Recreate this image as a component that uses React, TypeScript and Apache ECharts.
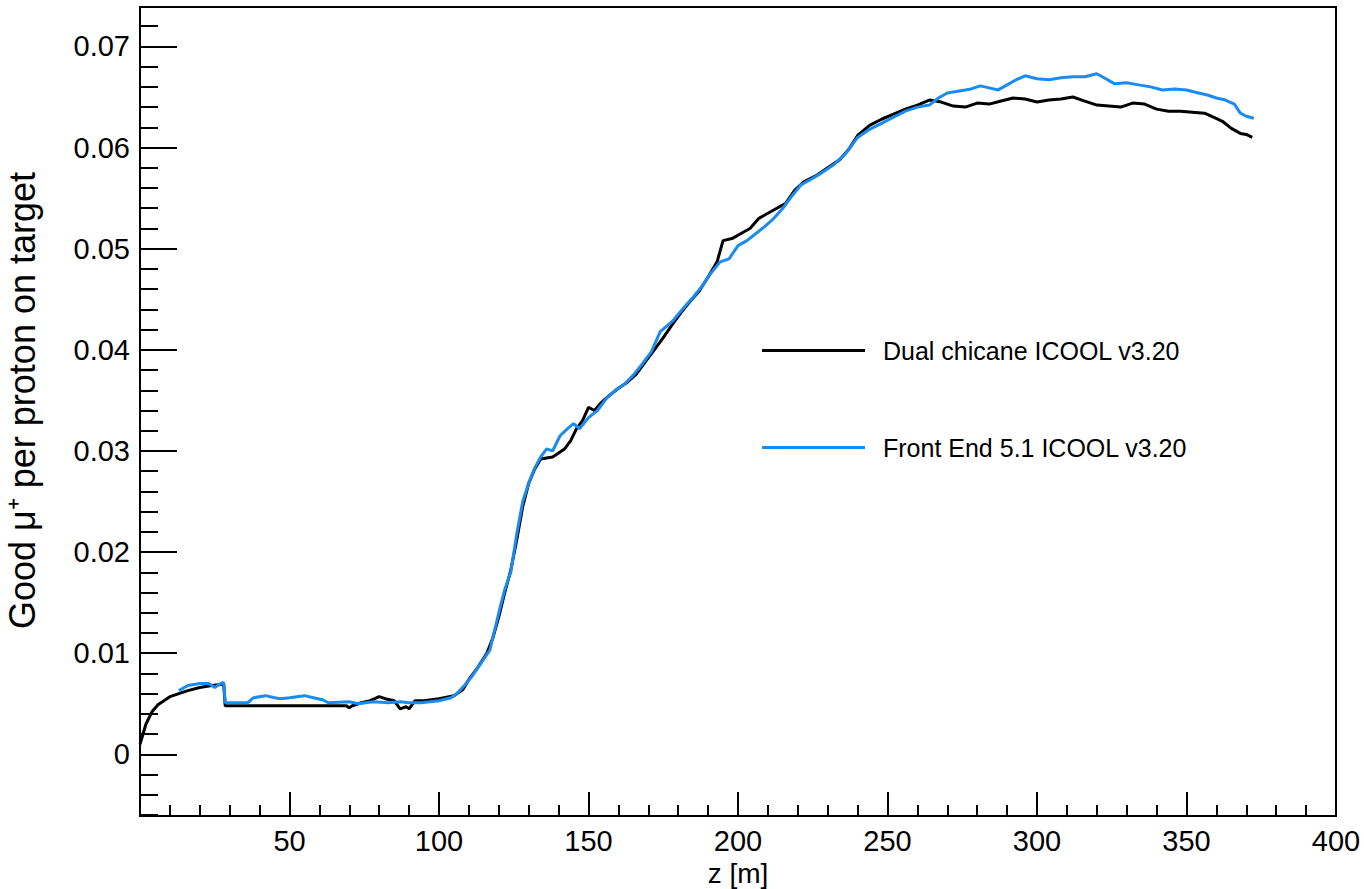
import React, { useEffect, useRef } from "react";
import * as echarts from "echarts";

const dualZ = [0, 2, 4, 6, 8, 10, 13, 16, 20, 24, 27, 28, 28.5, 40, 55, 69, 70, 71, 74, 77, 80, 82, 85, 87, 89, 90, 92, 95, 100, 105, 108, 110, 113, 116, 118, 120, 122, 124, 126, 128, 130, 132, 134, 136, 138, 140, 142, 144, 146, 148, 150, 152, 154, 157, 160, 163, 166, 169, 172, 175, 178, 181, 184, 187, 190, 193, 195, 198, 201, 204, 207, 210, 213, 216, 219, 222, 226, 230, 234, 237, 240, 244, 248, 252, 256, 260, 264, 268, 272, 276, 280, 284, 288, 292, 296, 300, 304, 308, 312, 316, 320, 324, 328, 332, 336, 340, 344, 348, 352, 356, 359, 362, 365, 368, 370, 372];
const dualY = [0.001, 0.003, 0.0042, 0.0049, 0.0053, 0.0057, 0.006, 0.0063, 0.0066, 0.0068, 0.0069, 0.0069, 0.0048, 0.0048, 0.0048, 0.0048, 0.0046, 0.0048, 0.0051, 0.0053, 0.0057, 0.0055, 0.0053, 0.0045, 0.0047, 0.0045, 0.0053, 0.0053, 0.0055, 0.0058, 0.0064, 0.0074, 0.0086, 0.01, 0.0115, 0.0136, 0.016, 0.0182, 0.0212, 0.0245, 0.0268, 0.0282, 0.0292, 0.0293, 0.0294, 0.0298, 0.0302, 0.031, 0.0322, 0.033, 0.0343, 0.034, 0.0347, 0.0355, 0.0362, 0.0368, 0.0376, 0.0388, 0.04, 0.0412, 0.0425, 0.0437, 0.0448, 0.0458, 0.0472, 0.0487, 0.0508, 0.051, 0.0515, 0.052, 0.053, 0.0535, 0.054, 0.0545, 0.0558, 0.0566, 0.0572, 0.058, 0.0588, 0.0598, 0.0612, 0.0622, 0.0628, 0.0633, 0.0638, 0.0642, 0.0647, 0.0645, 0.0641, 0.064, 0.0644, 0.0643, 0.0646, 0.0649, 0.0648, 0.0645, 0.0647, 0.0648, 0.065, 0.0646, 0.0642, 0.0641, 0.064, 0.0644, 0.0643, 0.0638, 0.0636, 0.0636, 0.0635, 0.0634, 0.063, 0.0626, 0.0619, 0.0614, 0.0613, 0.061];

const feZ = [13, 16, 20, 23, 25, 27, 28, 28.5, 36, 38, 42, 45, 47, 50, 55, 58, 61, 63, 70, 73, 78, 83, 87, 90, 94, 97, 100, 104, 106, 108.5, 111, 114, 117, 120, 122, 124, 126, 128, 130, 132, 134, 136, 138, 140.5, 143, 145, 147, 150, 153, 156, 159, 162, 165, 168, 171, 174, 178, 182, 185, 188, 191, 194, 197, 200, 203, 206, 209, 212, 215, 218, 221, 224, 228, 232, 236, 240, 244, 248, 252, 256, 260, 264, 267, 270, 274, 278, 281, 284, 287, 290, 293, 296, 300, 304, 308, 312, 316, 320, 323, 326, 330, 334, 338, 342, 346, 350, 354, 357, 360, 363, 366, 368, 370, 372.5];
const feY = [0.0063, 0.0068, 0.007, 0.007, 0.0066, 0.007, 0.0071, 0.0051, 0.0051, 0.0056, 0.0058, 0.0056, 0.0055, 0.0056, 0.0058, 0.0056, 0.0054, 0.0051, 0.0052, 0.005, 0.0052, 0.0051, 0.0052, 0.0051, 0.0051, 0.0052, 0.0053, 0.0056, 0.006, 0.0068, 0.0077, 0.009, 0.0103, 0.014, 0.0163, 0.018, 0.0218, 0.025, 0.0268, 0.0283, 0.0294, 0.0302, 0.03, 0.0315, 0.0322, 0.0327, 0.0322, 0.0333, 0.034, 0.0352, 0.036, 0.0366, 0.0375, 0.0386, 0.0398, 0.0418, 0.0428, 0.0442, 0.0452, 0.0463, 0.0476, 0.0487, 0.049, 0.0503, 0.0508, 0.0515, 0.0522, 0.053, 0.054, 0.0552, 0.0563, 0.0568, 0.0575, 0.0583, 0.0594, 0.061, 0.0618, 0.0624, 0.063, 0.0636, 0.064, 0.0642, 0.0649, 0.0654, 0.0656, 0.0658, 0.0661, 0.0659, 0.0657, 0.0662, 0.0667, 0.0671, 0.0668, 0.0667, 0.0669, 0.067, 0.067, 0.0673, 0.0668, 0.0663, 0.0664, 0.0662, 0.066, 0.0657, 0.0658, 0.0657, 0.0654, 0.0652, 0.0649, 0.0647, 0.0643, 0.0634, 0.0631, 0.0629];

const seriesNames = ["Dual chicane ICOOL v3.20", "Front End 5.1 ICOOL v3.20"];
const seriesColors = ["#000000", "#1a8cf0"];
const yMajorTicks = [0, 0.01, 0.02, 0.03, 0.04, 0.05, 0.06, 0.07];
const yMinorTicks = [-0.006, -0.004, -0.002, 0.002, 0.004, 0.006, 0.008, 0.012, 0.014, 0.016, 0.018, 0.022, 0.024, 0.026, 0.028, 0.032, 0.034, 0.036, 0.038, 0.042, 0.044, 0.046, 0.048, 0.052, 0.054, 0.056, 0.058, 0.062, 0.064, 0.066, 0.068, 0.072];
const yMin = -0.0061;
const yMax = 0.0739;
const xTitle = "z [m]";
const yTitle = "Good μ⁺ per proton on target";

export default function App() {
  const ref = useRef<HTMLDivElement>(null);
  useEffect(() => {
    if (!ref.current) return;
    const chart = echarts.init(ref.current, null, { renderer: "svg" });
    const font = "'Liberation Sans', Arial, Helvetica, sans-serif";
    const zip = (xs: number[], ys: number[]) => xs.map((x, i) => [x, ys[i]]);
    chart.setOption({
      animation: false,
      backgroundColor: "#ffffff",
      grid: {
        left: 140,
        top: 7,
        width: 1196,
        height: 809,
        containLabel: false,
        outerBoundsMode: "none",
        show: true,
        borderColor: "#000",
        borderWidth: 2,
        backgroundColor: "transparent",
      },
      legend: {
        orient: "vertical",
        left: 757,
        top: 333,
        itemWidth: 103,
        itemHeight: 3,
        itemGap: 72,
        icon: "rect",
        data: seriesNames,
        textStyle: {
          fontFamily: font,
          fontSize: 25,
          color: "#000",
          padding: [0, 0, 0, 13],
        },
      },
      xAxis: {
        type: "value",
        min: 0,
        max: 400,
        interval: 50,
        name: xTitle,
        nameLocation: "middle",
        nameGap: 30,
        nameTextStyle: { fontFamily: font, fontSize: 28, color: "#000", verticalAlign: "top" },
        axisLine: { show: true, onZero: false, lineStyle: { color: "#000", width: 2 } },
        axisTick: { show: true, inside: true, length: 24, lineStyle: { color: "#000", width: 2 } },
        minorTick: { show: true, splitNumber: 5, length: 11, lineStyle: { color: "#000", width: 2 } },
        axisLabel: {
          fontFamily: font,
          fontSize: 29,
          color: "#000",
          margin: 10,
          formatter: (v: number) => (v === 0 ? "" : String(v)),
        },
        splitLine: { show: false },
        minorSplitLine: { show: false },
      },
      yAxis: [
        {
          type: "value",
          min: yMin,
          max: yMax,
          name: yTitle,
          nameLocation: "middle",
          nameGap: 100,
          nameRotate: 90,
          nameTextStyle: { fontFamily: font, fontSize: 36, color: "#000", padding: [0, 0, 0, 22] },
          axisLine: { show: true, onZero: false, lineStyle: { color: "#000", width: 2 } },
          axisTick: {
            show: true,
            inside: true,
            length: 37,
            customValues: yMajorTicks,
            lineStyle: { color: "#000", width: 2 },
          },
          axisLabel: {
            fontFamily: font,
            fontSize: 29,
            color: "#000",
            margin: 10,
            customValues: yMajorTicks,
            formatter: (v: number) => String(Math.round(v * 100) / 100),
          },
          splitLine: { show: false },
        },
        {
          type: "value",
          min: yMin,
          max: yMax,
          position: "left",
          axisLine: { show: false, onZero: false },
          axisTick: {
            show: true,
            inside: true,
            length: 18,
            customValues: yMinorTicks,
            lineStyle: { color: "#000", width: 2 },
          },
          axisLabel: { show: false },
          splitLine: { show: false },
        },
      ],
      series: [
        {
          name: seriesNames[0],
          type: "line",
          data: zip(dualZ, dualY),
          showSymbol: false,
          symbol: "none",
          lineStyle: { color: seriesColors[0], width: 3 },
          itemStyle: { color: seriesColors[0] },
        },
        {
          name: seriesNames[1],
          type: "line",
          data: zip(feZ, feY),
          showSymbol: false,
          symbol: "none",
          lineStyle: { color: seriesColors[1], width: 3 },
          itemStyle: { color: seriesColors[1] },
        },
      ],
    });
    return () => chart.dispose();
  }, []);
  return (
    <div
      ref={ref}
      style={{ position: "absolute", left: 0, top: 0, width: 1364, height: 889 }}
    />
  );
}
